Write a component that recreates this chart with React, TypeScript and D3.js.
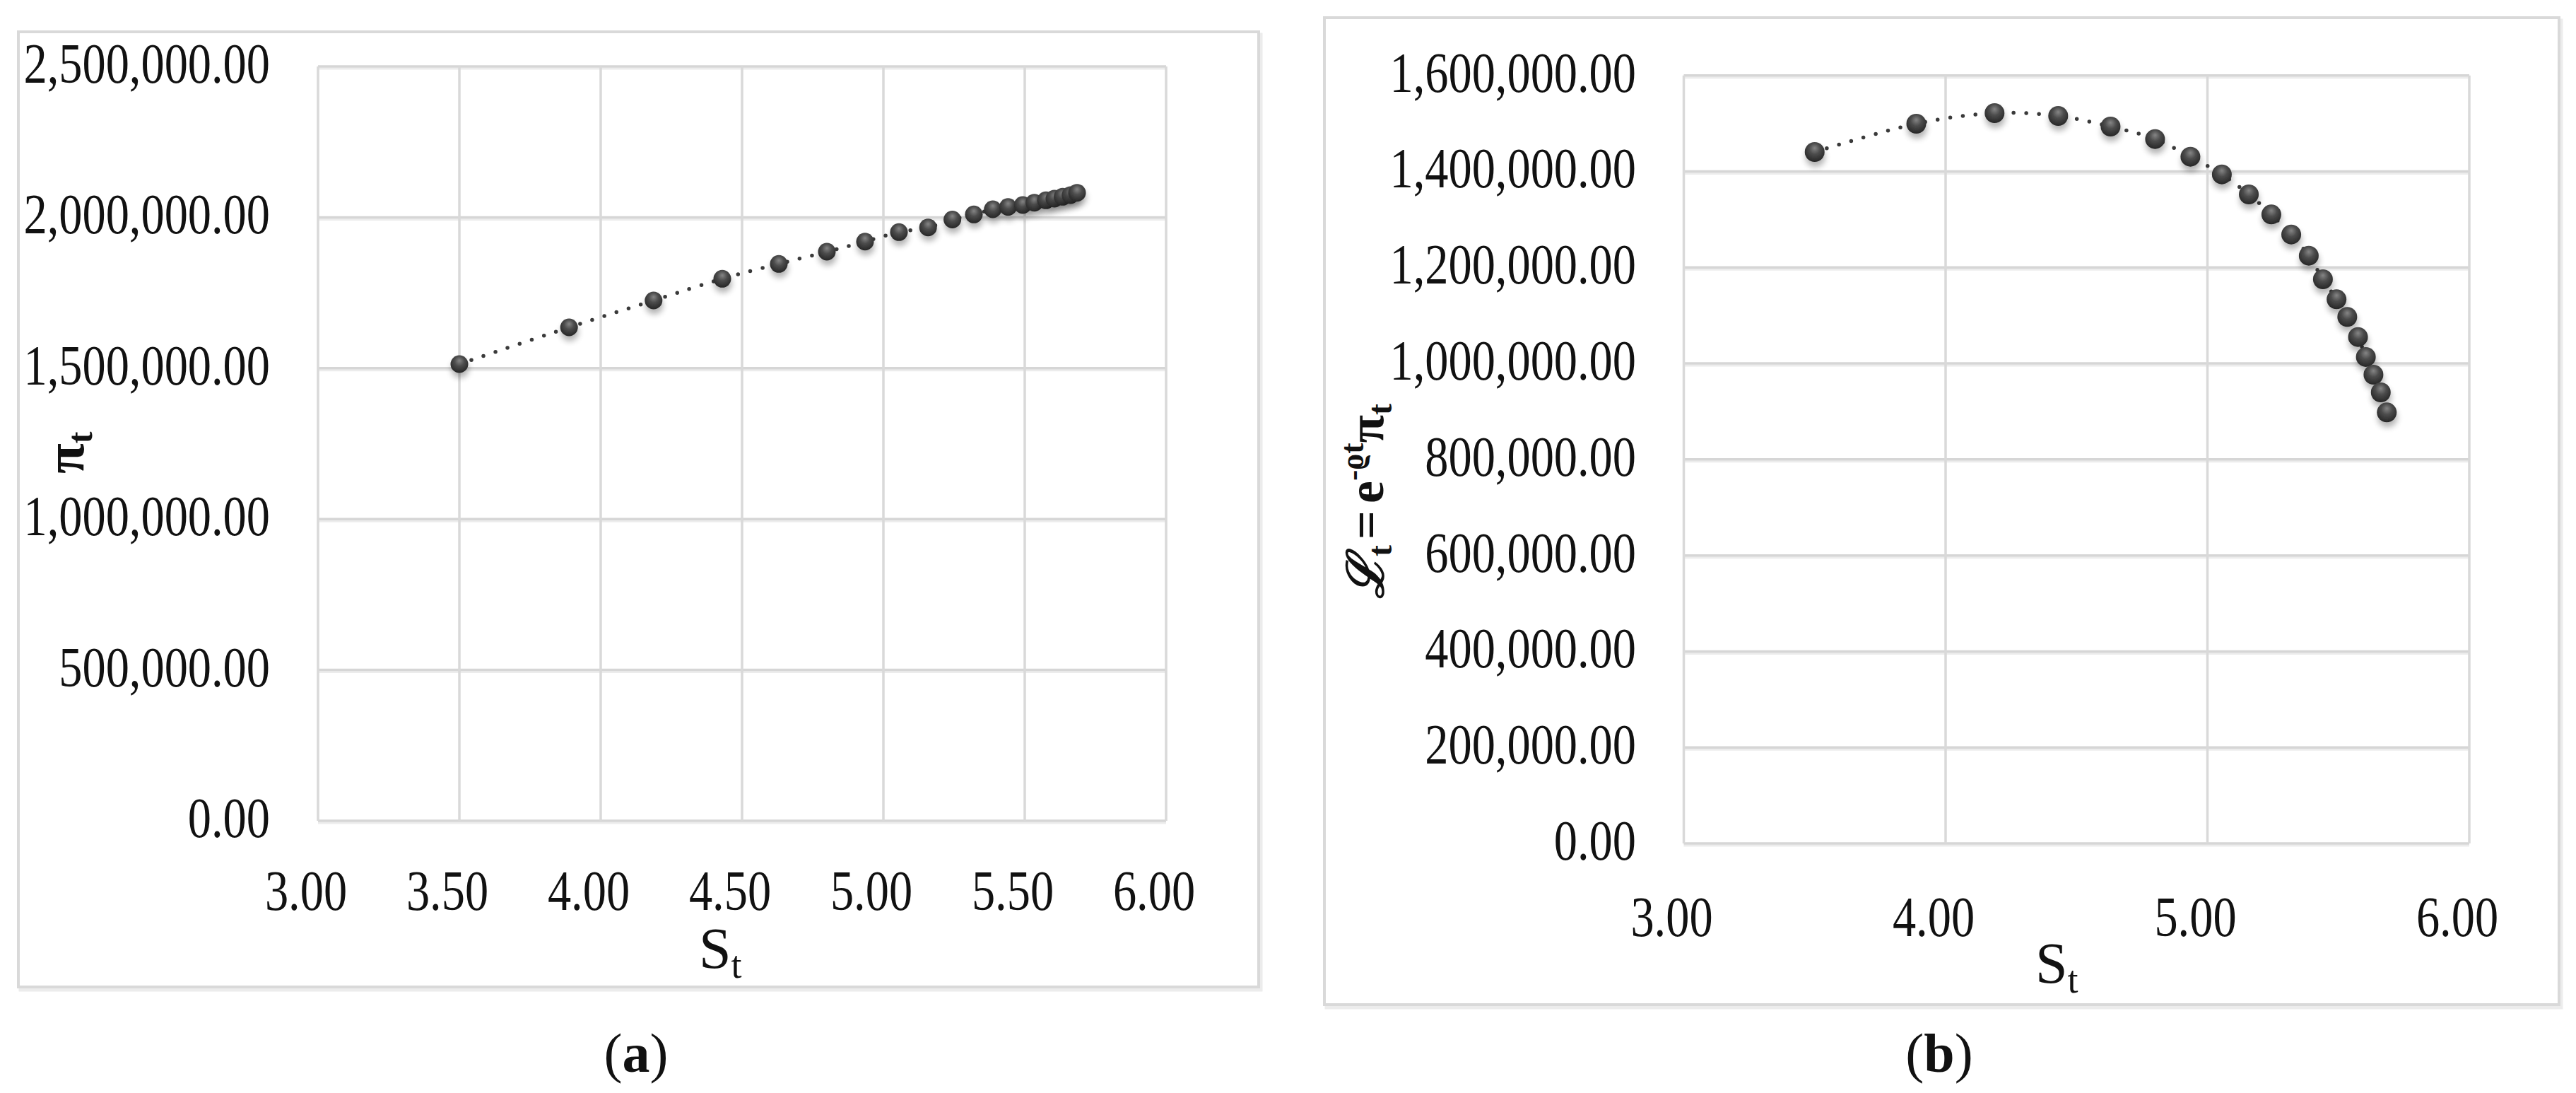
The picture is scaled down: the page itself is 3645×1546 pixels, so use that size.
import React from "react";
import * as d3 from "d3";

// ---- data ----
const stockS = [3.5, 3.888, 4.187, 4.43, 4.63, 4.8, 4.935, 5.055, 5.158, 5.244, 5.32, 5.387, 5.441, 5.493, 5.534, 5.575, 5.605, 5.634, 5.662, 5.685];
const profitPi = [1513600, 1635400, 1724400, 1796400, 1845600, 1886100, 1919600, 1951000, 1966500, 1992700, 2009600, 2026700, 2034400, 2040700, 2048500, 2056400, 2061800, 2068200, 2073600, 2081300];
const discountedL = [1440500, 1499400, 1521500, 1515600, 1493500, 1467500, 1430600, 1393800, 1352100, 1310400, 1268600, 1224400, 1175400, 1133700, 1096900, 1055000, 1013400, 976500, 939700, 898000];

const xTicksA = [3, 3.5, 4, 4.5, 5, 5.5, 6];
const yTicksA = [0, 500000, 1000000, 1500000, 2000000, 2500000];
const xTicksB = [3, 4, 5, 6];
const yTicksB = [0, 200000, 400000, 600000, 800000, 1000000, 1200000, 1400000, 1600000];

const FONT = "'Liberation Serif', 'Times New Roman', serif";
const fmt = d3.format(",.2f");

function Txt({ x, y, anchor = "start", size = 80, sx = 0.83, weight = "normal", children }: any) {
  return (
    <text
      transform={`translate(${x},${y}) scale(${sx},1)`}
      textAnchor={anchor}
      fontSize={size}
      fontWeight={weight}
      fontFamily={FONT}
      fill="#111"
    >
      {children}
    </text>
  );
}

function Panel({ frame, plot, xDomain, yDomain, xTicks, yTicks, values, r, labelRight, yTitle, title, captionX, captionChar }: any) {
  const x = d3.scaleLinear().domain(xDomain).range([plot.x0, plot.x1]);
  const y = d3.scaleLinear().domain(yDomain).range([plot.y1, plot.y0]);
  const pts = stockS.map((s, i) => [x(s), y(values[i])] as [number, number]);
  const line = d3.line().curve(d3.curveCatmullRom.alpha(0.5))(pts) || "";
  return (
    <g>
      {/* frame */}
      <rect x={frame.x0 + 3} y={frame.y0 + 4} width={frame.x1 - frame.x0} height={frame.y1 - frame.y0} fill="none" stroke="#ececec" strokeWidth={5} />
      <rect x={frame.x0} y={frame.y0} width={frame.x1 - frame.x0} height={frame.y1 - frame.y0} fill="#fff" stroke="#d9d9d9" strokeWidth={4} />
      {/* grid */}
      {yTicks.map((t: number) => (
        <g key={"h" + t}>
          <line x1={plot.x0} x2={plot.x1} y1={y(t) + 3} y2={y(t) + 3} stroke="#ececec" strokeWidth={3} />
          <line x1={plot.x0} x2={plot.x1} y1={y(t)} y2={y(t)} stroke="#d6d6d6" strokeWidth={3.5} />
        </g>
      ))}
      {xTicks.map((t: number) => (
        <line key={"v" + t} x1={x(t)} x2={x(t)} y1={plot.y0} y2={plot.y1} stroke="#d9d9d9" strokeWidth={3.5} />
      ))}
      {/* y tick labels */}
      {yTicks.map((t: number) => (
        <Txt key={"yl" + t} x={labelRight} y={y(t) + 23} anchor="end">
          {fmt(t)}
        </Txt>
      ))}
      {/* x tick labels */}
      {xTicks.map((t: number) => (
        <Txt key={"xl" + t} x={x(t) - 17} y={plot.xLabelBase} anchor="middle">
          {fmt(t)}
        </Txt>
      ))}
      {/* series line */}
      <path d={line} fill="none" stroke="#3a3a3a" strokeWidth={5.5} strokeDasharray="0 18" strokeLinecap="round" />
      {/* markers */}
      {pts.map((p, i) => (
        <circle key={"m" + i} cx={p[0]} cy={p[1]} r={r} fill="url(#sphere)" filter="url(#mshadow)" />
      ))}
      {/* x title */}
      <text x={title.x} y={title.y} fontFamily={FONT} fontSize={82} fill="#111">
        S<tspan fontSize={54} dy={14}>t</tspan>
      </text>
      {yTitle}
      {/* caption */}
      <text x={captionX} y={1516} textAnchor="middle" fontFamily={FONT} fontSize={78} fill="#111">
        (<tspan fontWeight="bold">{captionChar}</tspan>)
      </text>
    </g>
  );
}

export default function App() {
  const piTitle = (
    <text transform="translate(118,670) rotate(-90)" fontFamily={FONT} fontSize={78} fontWeight="bold" fill="#111">
      π<tspan fontSize={50} dy={12}>t</tspan>
    </text>
  );
  const lTitle = (
    <text transform="translate(1957,847) rotate(-90)" fontFamily={FONT} fontSize={72} fontWeight="bold" fill="#111">
      <tspan fontStyle="italic">ℒ</tspan>
      <tspan fontSize={48} dy={12}>t</tspan>
      <tspan dy={-12} dx={8}>=</tspan>
      <tspan dx={10}>e</tspan>
      <tspan fontSize={46} dy={-28}>-ϱt</tspan>
      <tspan dy={28}>π</tspan>
      <tspan fontSize={48} dy={12}>t</tspan>
    </text>
  );
  return (
    <svg width={3645} height={1546} style={{ position: "absolute", left: 0, top: 0, background: "#fff" }}>
      <defs>
        <radialGradient id="sphere" cx="50%" cy="38%" r="62%" fx="50%" fy="30%">
          <stop offset="0%" stopColor="#858585" />
          <stop offset="45%" stopColor="#4c4c4c" />
          <stop offset="100%" stopColor="#262626" />
        </radialGradient>
        <filter id="mshadow" x="-60%" y="-60%" width="220%" height="240%">
          <feGaussianBlur in="SourceAlpha" stdDeviation="4" />
          <feOffset dx="1" dy="7" result="b" />
          <feComponentTransfer>
            <feFuncA type="linear" slope="0.3" />
          </feComponentTransfer>
          <feMerge>
            <feMergeNode />
            <feMergeNode in="SourceGraphic" />
          </feMerge>
        </filter>
      </defs>
      <rect x={0} y={0} width={3645} height={1546} fill="#fff" />
      <Panel
        frame={{ x0: 26, y0: 45, x1: 1781, y1: 1396 }}
        plot={{ x0: 450, x1: 1650, y0: 94, y1: 1161, xLabelBase: 1287 }}
        xDomain={[3, 6]}
        yDomain={[0, 2500000]}
        xTicks={xTicksA}
        yTicks={yTicksA}
        values={profitPi}
        r={12.5}
        labelRight={382}
        yTitle={piTitle}
        title={{ x: 989, y: 1369 }}
        captionX={900}
        captionChar="a"
      />
      <Panel
        frame={{ x0: 1874, y0: 25, x1: 3621, y1: 1421 }}
        plot={{ x0: 2382.5, x1: 3494, y0: 106.7, y1: 1193, xLabelBase: 1324 }}
        xDomain={[3, 6]}
        yDomain={[0, 1600000]}
        xTicks={xTicksB}
        yTicks={yTicksB}
        values={discountedL}
        r={14}
        labelRight={2315}
        yTitle={lTitle}
        title={{ x: 2880, y: 1390 }}
        captionX={2744}
        captionChar="b"
      />
    </svg>
  );
}
